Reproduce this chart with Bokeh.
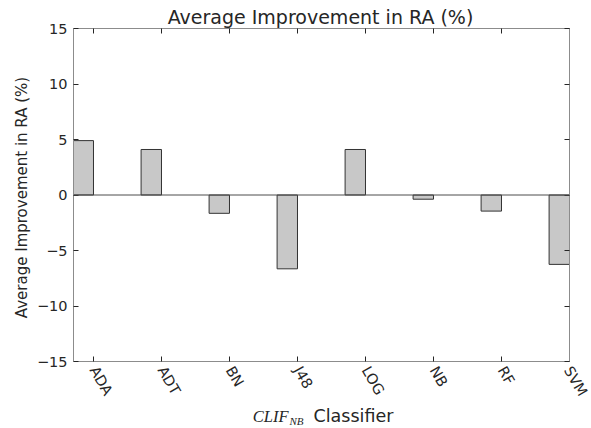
from bokeh.plotting import figure
from bokeh.layouts import column
from bokeh.models import (FixedTicker, LinearAxis, Span, Label, Range1d,
                          CustomJSTickFormatter, ColumnDataSource)
from bokeh.embed import file_html
from bokeh.resources import INLINE
import math

categories = ["ADA", "ADT", "BN", "J48", "LOG", "NB", "RF", "SVM"]
improvement = [4.9, 4.1, -1.65, -6.65, 4.1, -0.38, -1.45, -6.25]
y_ticks = [-15, -10, -5, 0, 5, 10, 15]

pos = list(range(1, len(categories) + 1))
bar_w = 0.3
src = ColumnDataSource(dict(
    x=[p_ - bar_w / 2 for p_ in pos],
    top=improvement,
    cat=categories,
))

FONT = "DejaVu Sans"
TXT = "#262626"
W, H = 590, 428
H1 = 405                              # main figure height; label strip below
FL, FR, FT, FB = 73, 569, 28, 361     # frame edges on the page
X0, X1, Y0, Y1 = 0.706, 8.0, -15, 15

p = figure(width=W, height=H1, output_backend="svg", toolbar_location=None,
           x_range=Range1d(X0, X1), y_range=Range1d(Y0, Y1),
           min_border_left=FL, min_border_right=W - FR, min_border_top=FT,
           min_border_bottom=H1 - FB, background_fill_color="white",
           border_fill_color="white", outline_line_color=None)
p.xgrid.visible = False
p.ygrid.visible = False

p.add_layout(Span(location=0, dimension="width", line_color="#4d4d4d", line_width=1))
p.vbar(x="x", top="top", bottom=0, width=bar_w, source=src,
       fill_color="#c8c8c8", line_color="#333333", line_width=1)

xt = FixedTicker(ticks=pos)
yt = FixedTicker(ticks=y_ticks)
fmt = CustomJSTickFormatter(code="return tick < 0 ? '\u2212' + Math.abs(tick) : String(tick);")

def style(ax, show_labels):
    ax.axis_line_color = "#8c8c8c"
    ax.major_tick_line_color = "#262626"
    ax.major_tick_in = 5
    ax.major_tick_out = 0
    ax.minor_tick_line_color = None
    ax.major_label_text_font = FONT
    ax.major_label_text_font_size = "14.5px"
    ax.major_label_text_color = TXT
    if not show_labels:
        ax.major_label_text_color = None
        ax.major_label_text_font_size = "1px"
        ax.major_label_standoff = 0

xa = p.xaxis[0]
xa.ticker = xt
xa.major_label_overrides = {i: c for i, c in zip(pos, categories)}
xa.major_label_orientation = -math.pi / 3
style(xa, True)
xa.major_label_standoff = 6

ya = p.yaxis[0]
ya.ticker = yt
ya.formatter = fmt
style(ya, True)
ya.major_label_standoff = 6

top_ax = LinearAxis(ticker=FixedTicker(ticks=pos))
style(top_ax, False)
p.add_layout(top_ax, "above")
right_ax = LinearAxis(ticker=FixedTicker(ticks=y_ticks))
style(right_ax, False)
p.add_layout(right_ax, "right")

def dx(px):
    return X0 + (px - FL) * (X1 - X0) / (FR - FL)

def dy(py):
    return Y1 - (py - FT) * (Y1 - Y0) / (FB - FT)

# Title (above panel) and y label (left panel), placed in data coordinates
p.add_layout(Label(x=dx(320), y=dy(16.5), text="Average Improvement in RA (%)",
                   text_align="center", text_baseline="alphabetic", text_font=FONT,
                   text_font_size="19px", text_color=TXT), "above")
p.add_layout(Label(x=dx(21), y=dy(197), text="Average Improvement in RA (%)",
                   angle=math.pi / 2, text_align="center", text_baseline="middle",
                   text_font=FONT, text_font_size="15px", text_color=TXT), "left")

# x-label strip: its frame is aligned with the main frame horizontally,
# its y data coordinates equal page pixels
q = figure(width=W, height=H - H1, output_backend="svg", toolbar_location=None,
           x_range=Range1d(X0, X1), y_range=Range1d(H, H1), title=None,
           x_axis_location=None, y_axis_location=None, min_border=0,
           background_fill_color="white", border_fill_color="white",
           outline_line_color=None)
q.xgrid.visible = False
q.ygrid.visible = False

def lab(x, y, text, **kw):
    q.add_layout(Label(x=dx(x), y=y, text=text, text_color=TXT, **kw))

lab(288, 420 - 4.5, "CLIF", text_align="right", text_baseline="alphabetic",
    text_font="Liberation Serif", text_font_style="italic", text_font_size="16.5px")
lab(289, 423 - 3.0, "NB", text_align="left", text_baseline="alphabetic",
    text_font="Liberation Serif", text_font_style="italic", text_font_size="11px")
lab(313, 420 - 4.8, "Classifier", text_align="left", text_baseline="alphabetic",
    text_font=FONT, text_font_size="17.5px")

open("out.html", "w").write(file_html(column(p, q, spacing=0), INLINE))
